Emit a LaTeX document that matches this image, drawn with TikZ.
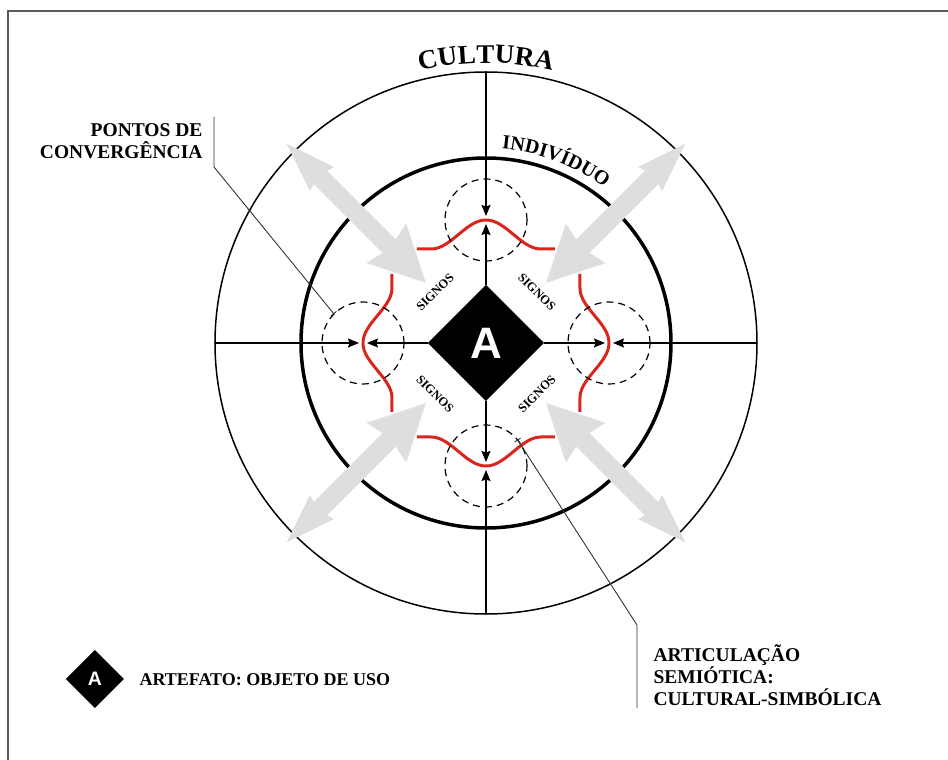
\documentclass[tikz,border=0pt]{standalone}
\usepackage{fontspec}
\setmainfont{Liberation Serif}
\newfontfamily\artsans{Liberation Sans}
\usepackage{tikz}
\usetikzlibrary{arrows.meta}
\usetikzlibrary{shapes.geometric}
\usetikzlibrary{decorations.text}
\definecolor{signgray}{RGB}{221,222,221}
\definecolor{semred}{RGB}{218,37,29}
\definecolor{framegray}{RGB}{90,90,90}
\definecolor{leadergray}{RGB}{50,50,50}

\begin{document}
\begin{tikzpicture}[x=1pt, y=1pt,
            ring/.style={circle, draw=black, inner sep=0pt, outer sep=0pt},
            conv/.style={circle, draw=black, dash pattern=on 7pt off 5pt, line width=1.2pt,
                minimum size=82pt, inner sep=0pt, outer sep=0pt},
            axisarrow/.style={line width=1.5pt, -{Stealth[length=11pt, width=9pt, inset=1.5pt]}, shorten >=4pt},
            semiotic/.style={draw=semred, line width=3pt, line join=round},
            signarrow/.style={draw=signgray, line width=19pt,
                {Stealth[length=56pt, width=56pt, inset=6pt, line width=0pt]}-{Stealth[length=50pt, width=34pt, inset=5pt, line width=0pt]}},
            artefato/.style={diamond, aspect=1, fill=black, text=white, inner sep=0pt, outer sep=0pt},
            signo/.style={font=\fontsize{12.5}{13}\selectfont\bfseries},
            lbl/.style={font=\fontsize{19.5}{22}\selectfont\bfseries},
            leader/.style={draw=leadergray, line width=0.9pt},
        ]
            \useasboundingbox (-486,-417) rectangle (462,343);
            % frame
            \draw[draw=framegray, line width=1.2pt] (-478,-417) -- (-478,332) -- (462,332);

            % culture and individual
            \node[ring, line width=1.5pt, minimum size=542pt] (cultura) at (0,0) {};
            \node[ring, line width=3.5pt, minimum size=370pt] (individuo) at (0,0) {};
            \path[decorate, decoration={text along path, text align=center,
                text={|\fontsize{27}{27}\selectfont\bfseries|CULTURA}}]
                (120:280) arc[start angle=120, end angle=60, radius=280];
            \path[decorate, decoration={text along path, text align=center,
                text={|\fontsize{20}{20}\selectfont\bfseries|INDIVÍDUO}}]
                (104:195) arc[start angle=104, end angle=34, radius=195];

            % semiotic articulation
            \foreach \r in {0,-90,180,90}
                \draw[semiotic, rotate=\r] plot[domain=-69:69, samples=70]
                    (\x, {94+ifthenelse(abs(\x)<55, 14.5*(1+cos(180*\x/55)), 0)});

            % points of convergence
            \node[conv] (pN) at (90:123) {};
            \node[conv] (pE) at (0:123) {};
            \node[conv] (pS) at (270:123) {};
            \node[conv] (pW) at (180:123) {};

            % artefact and axes
            \node[artefato, minimum size=116pt, font=\artsans\bfseries\fontsize{44}{44}\selectfont] (art) at (0,0) {A};
            \foreach \p/\side in {pN/north, pE/east, pS/south, pW/west} {
                \draw[axisarrow] (cultura.\side) -- (\p.center);
                \draw[axisarrow] (art.\side) -- (\p.center);
            }

            % signs coming in and out
            \foreach \a/\n in {45/ne, 135/nw, 225/sw, 315/se} {
                \coordinate (tip-\n) at (\a:85);
                \coordinate (end-\n) at (\a:282);
                \draw[signarrow] (tip-\n) -- (end-\n);
            }
            \node[signo, rotate=45]  (sNW) at (135:72) {SIGNOS};
            \node[signo, rotate=-45] (sNE) at (45:72)  {SIGNOS};
            \node[signo, rotate=-45] (sSW) at (225:72) {SIGNOS};
            \node[signo, rotate=45]  (sSE) at (315:72) {SIGNOS};

            % labels
            \node[lbl, align=right, anchor=base east] (pontos) at (-280,184) {PONTOS DE\\CONVERGÊNCIA};
            \coordinate (pontos top) at (-272,226);
            \coordinate (pontos bend) at (-272,176);
            \draw[leader, -{Bar[width=7pt]}] (pontos top) -- (pontos bend) -- (pW.north west);

            \node[lbl, align=left, anchor=base west] (artic) at (164,-362) {ARTICULAÇÃO\\SEMIÓTICA:\\CULTURAL-SIMBÓLICA};
            \coordinate (artic foot) at (151,-365);
            \coordinate (artic bend) at (151,-282);
            \draw[leader, -{Bar[width=7pt]}] (artic foot) -- (artic bend) -- (pS.40);

            % legend
            \node[artefato, minimum size=58pt, font=\artsans\bfseries\fontsize{19.5}{19.5}\selectfont] (legA) at (-391,-336) {A};
            \node[font=\fontsize{18}{18}\selectfont\bfseries, anchor=base west] (legtxt) at (-350,-342) {ARTEFATO: OBJETO DE USO};
        \end{tikzpicture}
\end{document}
